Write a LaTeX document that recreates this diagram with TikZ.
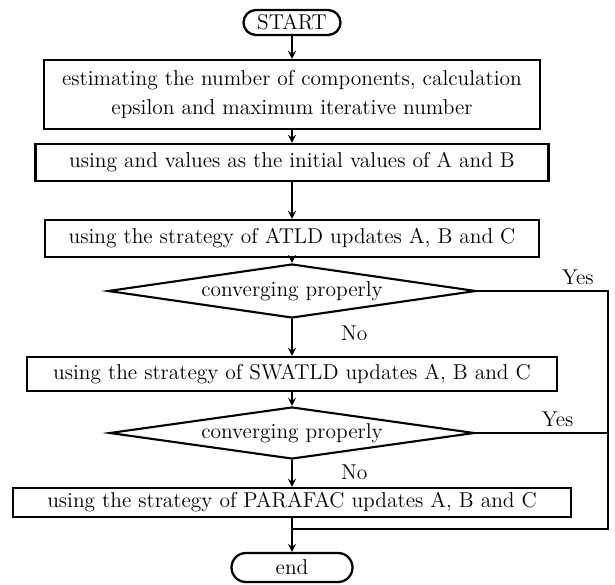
\documentclass[tikz,border=0pt]{standalone}
\usepackage{amsmath}
\usepackage{xcolor}
\usepackage{tikz}
\usetikzlibrary{shapes,arrows,positioning}

\begin{document}
\begin{tikzpicture}[
        font=\fontsize{12.2}{16.5}\selectfont,
        terminal/.style={rounded rectangle, draw, line width=1.3pt, minimum width=1.94cm, minimum height=0.5cm, inner sep=0pt},
        proc/.style={rectangle, draw, line width=1.4pt, minimum height=0.74cm, inner sep=1pt, align=center},
        decision/.style={diamond, draw, line width=1.2pt, aspect=6.8, inner sep=0pt, minimum width=7.36cm, minimum height=1.08cm},
        arrow/.style={line width=1pt,->,>=stealth},
        line/.style={line width=1pt}
    ]
        \useasboundingbox (0,0) rectangle (12.3,11.68);
        % Main flow
        \node[terminal] (start) at (5.84,11.23) {START};
        \node[proc, minimum width=9.92cm, minimum height=1.38cm] (estimate) at (5.84,9.79) {estimating the number of components, calculation\\epsilon and maximum iterative number};
        \node[proc, minimum width=10.26cm] (init) at (5.84,8.43) {using and values as the initial values of A and B};
        \node[proc, minimum width=9.88cm] (atld) at (5.84,6.91) {using the strategy of ATLD updates A, B and C};
        \node[decision] (conv1) at (5.84,5.86) {converging properly};
        \node[proc, minimum width=10.6cm, minimum height=0.68cm] (swatld) at (5.84,4.20) {using the strategy of SWATLD updates A, B and C};
        \node[decision, minimum width=7.3cm, minimum height=1.04cm] (conv2) at (5.84,3.02) {converging properly};
        \node[proc, minimum width=11.16cm, minimum height=0.58cm] (parafac) at (5.84,1.63) {using the strategy of PARAFAC updates A, B and C};
        \node[terminal, minimum width=2.42cm, minimum height=0.58cm] (end) at (5.84,0.33) {end};

        % Helper points for the Yes branch
        \coordinate (right1) at (12.16,5.86);
        \coordinate (join) at (5.84,1.10);

        % Connections
        \draw[arrow] (start) -- (estimate);
        \draw[arrow] (estimate) -- (init);
        \draw[arrow] (init) -- (atld);
        \draw[arrow] (atld) -- (conv1);
        \draw[arrow] (conv1) -- node[right=0.85cm, pos=0.4] {No} (swatld);
        \draw[arrow] (swatld) -- (conv2);
        \draw[arrow] (conv2) -- node[right=0.85cm, pos=0.45] {No} (parafac);
        \draw[arrow] (parafac) -- (end);

        % Yes branch back to the end
        \draw[line] (conv1.east) -- node[above, pos=0.77] {Yes} (right1) |- (join);
        \draw[line] (conv2.east) -- node[above, pos=0.62] {Yes} (conv2.east -| right1);
    \end{tikzpicture}
\end{document}
